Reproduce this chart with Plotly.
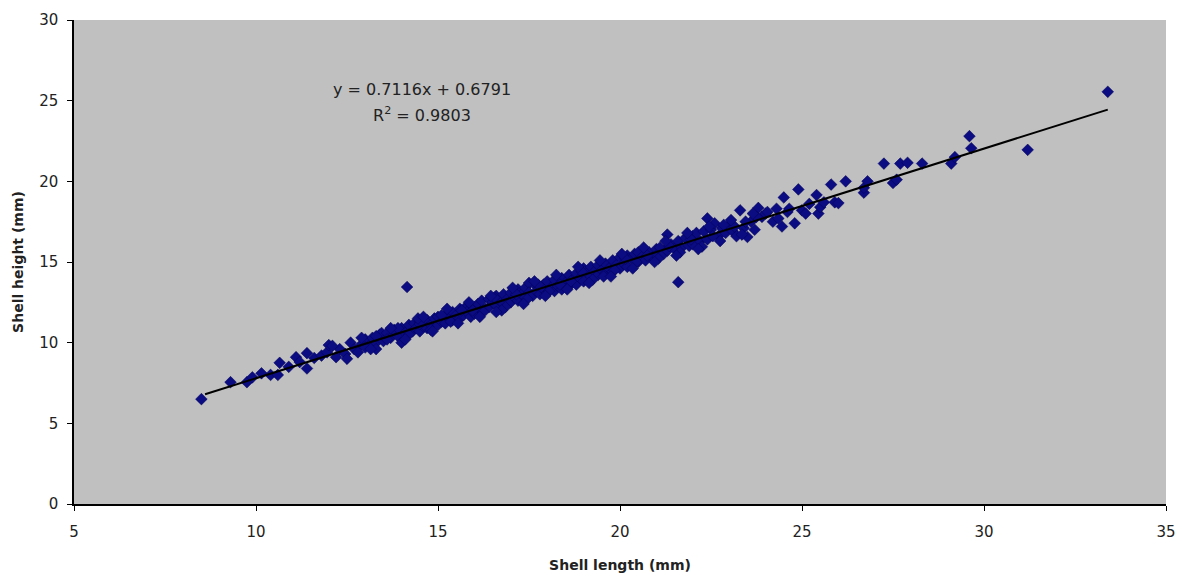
import plotly.graph_objects as go

shell_length = [
    8.5, 9.3, 9.75, 9.9, 10.15, 10.4, 10.6, 10.65, 10.9, 11.1,
    11.2, 11.4, 11.4, 11.6, 11.8, 11.95, 12.0, 12.2, 12.3, 12.45,
    12.6, 12.7, 12.8, 12.9, 13.0, 13.1, 13.2, 13.3, 13.4, 13.45,
    13.5, 13.6, 13.7, 13.8, 13.9, 14.0, 14.0, 14.1, 14.15, 14.2,
    14.3, 14.35, 14.4, 14.5, 14.5, 14.6, 14.7, 14.7, 14.8, 14.9,
    15.0, 15.0, 15.1, 15.2, 15.2, 15.3, 15.4, 15.4, 15.5, 15.6,
    15.6, 15.7, 15.8, 15.8, 15.9, 16.0, 16.0, 16.1, 16.2, 16.2,
    16.3, 16.4, 16.4, 16.5, 16.6, 16.6, 16.7, 16.8, 16.8, 16.9,
    17.0, 17.0, 17.1, 17.2, 17.2, 17.3, 17.4, 17.4, 17.5, 17.5,
    17.6, 17.7, 17.7, 17.8, 17.9, 17.9, 18.0, 18.0, 18.1, 18.2,
    18.2, 18.3, 18.4, 18.4, 18.5, 18.6, 18.6, 18.7, 18.8, 18.8,
    18.9, 19.0, 19.0, 19.1, 19.2, 19.2, 19.3, 19.4, 19.4, 19.5,
    19.6, 19.6, 19.7, 19.8, 19.8, 19.9, 20.0, 20.0, 20.1, 20.2,
    20.2, 20.3, 20.4, 20.5, 20.5, 20.6, 20.7, 20.8, 20.9, 21.0,
    21.0, 21.1, 21.2, 21.3, 21.3, 21.4, 21.5, 21.6, 21.6, 21.7,
    21.8, 21.9, 22.0, 22.0, 22.1, 22.2, 22.3, 22.4, 22.4, 22.5,
    22.6, 22.7, 22.8, 22.9, 23.0, 23.1, 23.2, 23.3, 23.4, 23.5,
    23.6, 23.7, 23.8, 23.9, 24.0, 24.2, 24.3, 24.45, 24.5, 24.6,
    24.8, 24.9, 25.0, 25.1, 25.2, 25.4, 25.45, 25.5, 25.6, 25.8,
    25.9, 26.0, 26.2, 26.7, 26.7, 26.8, 27.25, 27.5, 27.6, 27.7,
    27.9, 28.3, 29.1, 29.2, 29.6, 29.65, 31.2, 33.4,
    13.0, 13.3, 13.6, 13.9, 14.2, 14.5, 14.8, 15.1, 15.35, 15.65,
    15.95, 16.25, 16.55, 16.85, 17.15, 17.45, 17.75, 18.05, 18.35, 18.65,
    18.95, 19.25, 19.55, 19.85, 20.15, 20.45, 20.75, 21.05, 21.35, 21.65,
    21.95, 22.25, 22.55, 22.85, 23.15, 23.45, 23.75, 24.05, 24.35, 24.65,
    12.5, 12.9, 13.3, 13.7, 14.1, 14.45, 14.85, 15.25, 15.55, 15.85,
    16.15, 16.45, 16.75, 17.05, 17.35, 17.65, 17.95, 18.25, 18.55, 18.85,
    19.15, 19.45, 19.75, 20.05, 20.35, 20.65, 20.95, 21.25, 21.55, 21.85,
    22.15, 22.45, 22.75, 23.05, 23.35, 23.65, 12.1, 13.15, 14.6, 16.6,
]

shell_height = [
    6.5, 7.55, 7.55, 7.85, 8.1, 8.0, 8.0, 8.75, 8.5, 9.1,
    8.8, 9.35, 8.4, 9.05, 9.2, 9.4, 9.85, 9.1, 9.6, 9.3,
    10.0, 9.6, 9.4, 9.9, 10.2, 9.8, 10.3, 10.0, 10.5, 10.6,
    10.1, 10.6, 10.3, 10.8, 10.4, 10.0, 10.9, 10.6, 13.45, 11.1,
    10.7, 11.2, 10.9, 11.3, 10.7, 11.0, 11.4, 10.9, 11.1, 11.5,
    11.1, 11.6, 11.3, 11.7, 11.2, 11.5, 11.9, 11.4, 11.7, 11.5,
    12.1, 11.7, 12.3, 11.9, 11.6, 12.2, 11.8, 12.4, 12.0, 12.6,
    12.1, 12.7, 12.2, 12.5, 12.3, 12.9, 12.6, 12.4, 13.0, 12.7,
    12.5, 13.1, 12.8, 13.3, 12.6, 13.0, 13.4, 12.8, 13.7, 13.1,
    12.9, 13.5, 13.2, 13.0, 13.6, 13.3, 13.1, 13.8, 13.4, 13.2,
    13.9, 13.5, 13.3, 14.0, 13.7, 14.2, 13.5, 13.9, 13.6, 14.3,
    14.0, 14.6, 13.8, 14.3, 14.1, 14.7, 14.4, 14.2, 14.8, 14.5,
    14.3, 14.9, 14.6, 15.1, 14.4, 14.8, 14.6, 15.3, 14.9, 15.4,
    14.7, 15.2, 15.5, 15.0, 15.6, 15.3, 15.1, 15.6, 15.3, 15.8,
    15.4, 15.9, 15.5, 16.7, 15.7, 16.1, 15.8, 13.75, 16.3, 15.9,
    16.5, 16.0, 16.6, 16.1, 16.8, 16.3, 16.9, 17.7, 16.4, 17.0,
    17.4, 16.6, 17.1, 16.8, 17.3, 16.9, 16.6, 18.2, 17.1, 16.55,
    17.5, 17.0, 18.35, 17.8, 18.0, 17.5, 18.3, 17.2, 19.0, 18.1,
    17.4, 19.5, 18.2, 18.0, 18.6, 19.15, 18.0, 18.4, 18.7, 19.8,
    18.7, 18.65, 20.0, 19.3, 19.6, 20.0, 21.1, 19.9, 20.1, 21.1,
    21.15, 21.1, 21.1, 21.5, 22.8, 22.05, 21.95, 25.55,
    9.7, 10.4, 10.2, 10.9, 10.5, 11.15, 10.8, 11.7, 11.3, 12.0,
    12.0, 11.9, 12.8, 12.2, 13.0, 12.7, 13.6, 13.2, 13.6, 13.8,
    14.4, 13.9, 14.1, 14.5, 15.2, 15.0, 15.4, 15.2, 16.0, 15.6,
    16.4, 15.95, 16.6, 17.3, 17.2, 17.5, 17.8, 18.1, 17.7, 18.3,
    9.0, 10.3, 9.6, 10.9, 10.2, 11.5, 10.7, 12.1, 11.2, 12.5,
    11.6, 12.9, 12.0, 13.4, 12.4, 13.8, 12.9, 14.2, 13.3, 14.7,
    13.7, 15.1, 14.1, 15.5, 14.6, 15.9, 15.0, 16.3, 15.4, 16.8,
    15.8, 17.2, 16.3, 17.6, 16.7, 18.0, 9.8, 9.6, 11.6, 11.9,
]

trend_slope = 0.7116
trend_intercept = 0.6791
trend_x = [8.6, max(shell_length)]
trend_y = [trend_slope * v + trend_intercept for v in trend_x]

x_ticks = [5, 10, 15, 20, 25, 30, 35]
y_ticks = [0, 5, 10, 15, 20, 25, 30]

font_family = "DejaVu Sans, Liberation Sans, Arial, sans-serif"
text_color = "#222222"

fig = go.Figure()
fig.add_trace(go.Scatter(
    x=shell_length, y=shell_height, mode="markers",
    marker=dict(symbol="diamond", size=9, color="#0c0c82",
                line=dict(color="#00005a", width=0.5)),
    showlegend=False, hoverinfo="x+y",
))
fig.add_trace(go.Scatter(
    x=trend_x, y=trend_y, mode="lines",
    line=dict(color="black", width=2),
    showlegend=False, hoverinfo="skip",
))

fig.add_annotation(
    x=0.3187, y=0.857, xref="paper", yref="paper",
    xanchor="center", yanchor="middle",
    text="y = 0.7116x + 0.6791", showarrow=False,
    font=dict(family=font_family, size=16, color=text_color),
)
fig.add_annotation(
    x=0.3187, y=0.804, xref="paper", yref="paper",
    xanchor="center", yanchor="middle",
    text="R<sup>2</sup> = 0.9803", showarrow=False,
    font=dict(family=font_family, size=16, color=text_color),
)

fig.update_layout(
    width=1177, height=566,
    margin=dict(l=66, r=19, t=12, b=70),
    paper_bgcolor="white", plot_bgcolor="#c0c0c0",
    font=dict(family=font_family, size=15, color=text_color),
    xaxis=dict(
        range=[5, 35], tickvals=x_ticks, showgrid=False, zeroline=False,
        showline=True, linecolor="black", linewidth=1.5,
        ticks="outside", ticklen=5, tickcolor="black",
        ticklabelstandoff=8, automargin=False,
        tickfont=dict(family=font_family, size=15, color=text_color),
        title=dict(text="<b>Shell length (mm)</b>", standoff=20,
                   font=dict(family=font_family, size=14, color=text_color)),
    ),
    yaxis=dict(
        range=[0, 30], tickvals=y_ticks, showgrid=False, zeroline=False,
        showline=True, linecolor="black", linewidth=1.5,
        ticks="outside", ticklen=5, tickcolor="black",
        ticklabelstandoff=6, automargin=False,
        tickfont=dict(family=font_family, size=15, color=text_color),
        title=dict(text="<b>Shell height (mm)</b>", standoff=12,
                   font=dict(family=font_family, size=14, color=text_color)),
    ),
)

fig.write_html("out.html")
